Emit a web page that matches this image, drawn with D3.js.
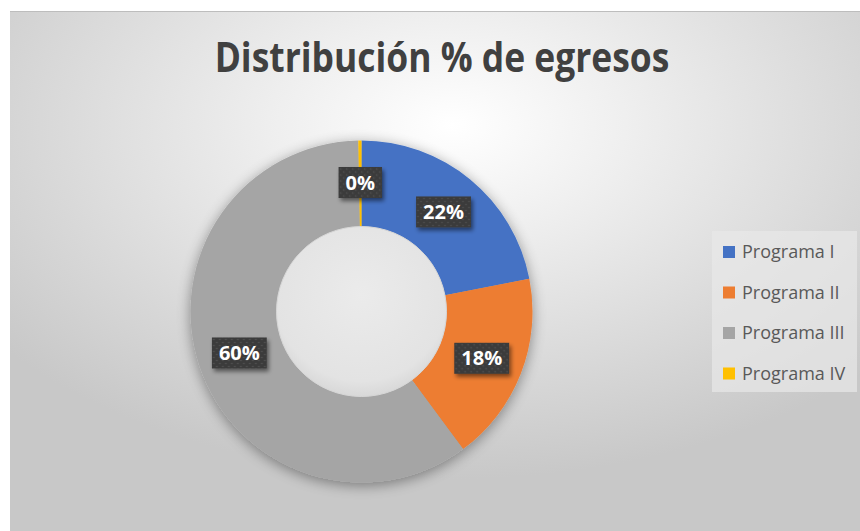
<!DOCTYPE html>
<html>
<head>
<meta charset="utf-8">
<script src="https://cdn.jsdelivr.net/npm/d3@7"></script>
<style>
  html, body { margin: 0; padding: 0; background: #fff; }
  svg { display: block; }
</style>
</head>
<body>
<div id="chart"></div>
<script>
// data
const categories = ["Programa I", "Programa II", "Programa III", "Programa IV"];
const values = [22, 18, 60, 0.3];
const colors = ["#4472C4", "#ED7D31", "#A5A5A5", "#FFC000"];
const chartTitle = "Distribución % de egresos";

const width = 860, height = 531;
const area = { x: 10, y: 11, w: 850, h: 520 };
const cx = 361.5, cy = 311.5;
const outerR = 171, innerR = 85;

const svg = d3.select("#chart").append("svg")
  .attr("width", width)
  .attr("height", height);

const defs = svg.append("defs");

// background gradient
const bg = defs.append("radialGradient")
  .attr("id", "bgGrad")
  .attr("cx", "52%").attr("cy", "22%").attr("r", "68%");
bg.append("stop").attr("offset", "0%").attr("stop-color", "#ffffff");
bg.append("stop").attr("offset", "30%").attr("stop-color", "#efefef");
bg.append("stop").attr("offset", "100%").attr("stop-color", "#c8c8c8");

// hole gradient
const hole = defs.append("radialGradient")
  .attr("id", "holeGrad")
  .attr("cx", "50%").attr("cy", "40%").attr("r", "60%");
hole.append("stop").attr("offset", "0%").attr("stop-color", "#ebebeb");
hole.append("stop").attr("offset", "85%").attr("stop-color", "#e3e3e3");
hole.append("stop").attr("offset", "100%").attr("stop-color", "#d8d8d8");

// soft shadow for donut
const sh = defs.append("filter").attr("id", "ringShadow")
  .attr("x", "-20%").attr("y", "-20%").attr("width", "140%").attr("height", "140%");
sh.append("feGaussianBlur").attr("in", "SourceAlpha").attr("stdDeviation", 7).attr("result", "b");
sh.append("feOffset").attr("in", "b").attr("dx", 0).attr("dy", 3).attr("result", "o");
sh.append("feComponentTransfer").attr("in", "o").attr("result", "s")
  .append("feFuncA").attr("type", "linear").attr("slope", 0.4);
const shm = sh.append("feMerge");
shm.append("feMergeNode").attr("in", "s");
shm.append("feMergeNode").attr("in", "SourceGraphic");

// label shadow
const ls = defs.append("filter").attr("id", "lblShadow")
  .attr("x", "-30%").attr("y", "-30%").attr("width", "160%").attr("height", "170%");
ls.append("feGaussianBlur").attr("in", "SourceAlpha").attr("stdDeviation", 2).attr("result", "b");
ls.append("feOffset").attr("in", "b").attr("dx", 2).attr("dy", 3).attr("result", "o");
ls.append("feComponentTransfer").attr("in", "o").attr("result", "s")
  .append("feFuncA").attr("type", "linear").attr("slope", 0.5);
const lsm = ls.append("feMerge");
lsm.append("feMergeNode").attr("in", "s");
lsm.append("feMergeNode").attr("in", "SourceGraphic");

// dotted texture for label boxes
const pat = defs.append("pattern").attr("id", "dots")
  .attr("width", 6).attr("height", 6).attr("patternUnits", "userSpaceOnUse");
pat.append("rect").attr("width", 6).attr("height", 6).attr("fill", "#3b3b3b");
pat.append("circle").attr("cx", 1.5).attr("cy", 1.5).attr("r", 0.8).attr("fill", "#555");
pat.append("circle").attr("cx", 4.5).attr("cy", 4.5).attr("r", 0.8).attr("fill", "#555");

// chart area
svg.append("rect")
  .attr("x", area.x).attr("y", area.y)
  .attr("width", area.w).attr("height", area.h)
  .attr("fill", "url(#bgGrad)");
svg.append("line")
  .attr("x1", area.x).attr("x2", area.x + area.w)
  .attr("y1", area.y + 0.5).attr("y2", area.y + 0.5)
  .attr("stroke", "#bdbdbd").attr("stroke-width", 1);

// title: tall and narrow like the original, squeezed to ~455px
const titleG = svg.append("g").attr("transform", "translate(442,72)");
const title = titleG.append("text")
  .attr("text-anchor", "middle")
  .attr("font-family", "'Open Sans', sans-serif")
  .attr("font-weight", "bold")
  .attr("font-size", 41)
  .attr("fill", "#404040")
  .text(chartTitle);
const tw = title.node().getComputedTextLength();
title.attr("transform", `scale(${455 / tw},1)`);

// donut
const pie = d3.pie().sort(null).value(d => d)(values);
const arc = d3.arc().innerRadius(innerR).outerRadius(outerR);
const labelArc = d3.arc().innerRadius(129).outerRadius(129);
const total = d3.sum(values);

const g = svg.append("g").attr("transform", `translate(${cx},${cy})`);

g.append("g").attr("filter", "url(#ringShadow)")
  .selectAll("path")
  .data(pie)
  .enter()
  .append("path")
  .attr("d", arc)
  .attr("fill", (d, i) => colors[i]);

g.append("circle")
  .attr("r", innerR)
  .attr("fill", "url(#holeGrad)")
  .attr("stroke", "#d6d6d6").attr("stroke-width", 1);

// labels
const lbl = g.selectAll(".lbl")
  .data(pie)
  .enter()
  .append("g")
  .attr("class", "lbl")
  .attr("transform", d => `translate(${labelArc.centroid(d)})`);

lbl.each(function(d) {
  const sel = d3.select(this);
  const txt = Math.round(d.value / total * 100) + "%";
  const t = sel.append("text")
    .attr("text-anchor", "middle")
    .attr("dy", "0.36em")
    .attr("font-family", "'Open Sans', sans-serif")
    .attr("font-weight", "bold")
    .attr("font-size", 20)
    .attr("fill", "#ffffff")
    .text(txt);
  const w = t.node().getComputedTextLength() + 14;
  sel.insert("rect", "text")
    .attr("x", -w / 2).attr("y", -15.5)
    .attr("width", w).attr("height", 31)
    .attr("fill", "url(#dots)")
    .attr("filter", "url(#lblShadow)");
});

// legend
const legend = svg.append("g");
legend.append("rect")
  .attr("x", 712).attr("y", 231)
  .attr("width", 145).attr("height", 161)
  .attr("fill", "#e8e8e8").attr("fill-opacity", 0.7);

const li = legend.selectAll(".li")
  .data(categories)
  .enter()
  .append("g")
  .attr("transform", (d, i) => `translate(723,${252 + i * 40.5})`);
li.append("rect")
  .attr("x", 0).attr("y", -6)
  .attr("width", 12).attr("height", 12)
  .attr("fill", (d, i) => colors[i]);
li.append("text")
  .attr("x", 19).attr("dy", "0.35em")
  .attr("font-family", "'Open Sans', sans-serif")
  .attr("font-size", 18)
  .attr("fill", "#595959")
  .text(d => d);
</script>
</body>
</html>
